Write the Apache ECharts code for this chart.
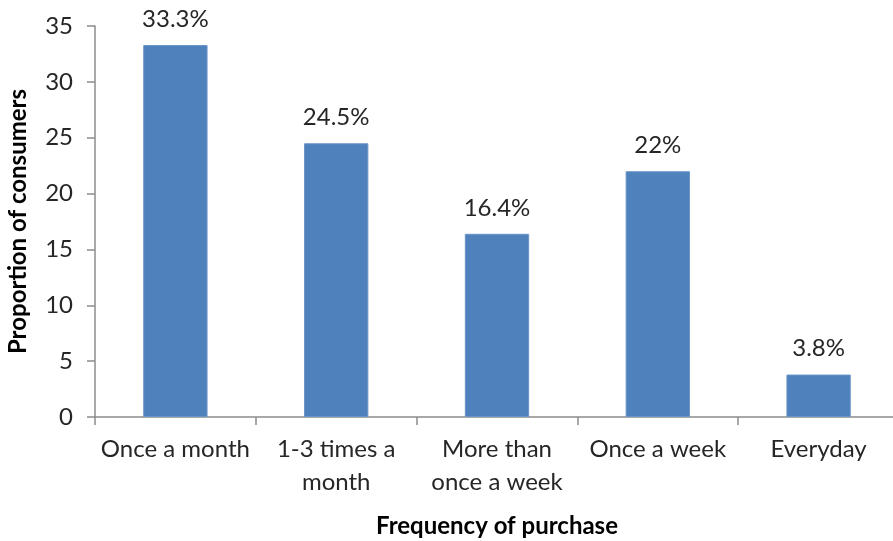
<!DOCTYPE html>
<html>
<head>
<meta charset="utf-8">
<script src="https://cdn.jsdelivr.net/npm/echarts@6/dist/echarts.min.js"></script>
<style>
  html, body { margin: 0; padding: 0; background: #fff; }
  #chart { width: 893px; height: 541px; }
</style>
</head>
<body>
<div id="chart"></div>
<script>
// Purchase frequency categories and share of consumers (%)
const categories = ['Once a month', '1-3 times a\nmonth', 'More than\nonce a week', 'Once a week', 'Everyday'];
const proportions = [33.3, 24.5, 16.4, 22, 3.8];
const yTicks = { min: 0, max: 35, interval: 5 };

const font = 'Lato, "Open Sans", "Liberation Sans", sans-serif';
const axisGray = '#8c8c8c';
const textColor = '#262626';

const chart = echarts.init(document.getElementById('chart'), null, { renderer: 'canvas' });
chart.setOption({
  animation: false,
  backgroundColor: '#ffffff',
  textStyle: { fontFamily: font },
  grid: { left: 95, right: -6, top: 26, bottom: 124, containLabel: false, outerBoundsMode: 'none' },
  xAxis: {
    type: 'category',
    data: categories,
    name: 'Frequency of purchase',
    nameLocation: 'middle',
    nameGap: 97,
    nameTextStyle: { fontFamily: font, fontSize: 24, fontWeight: 'bold', color: '#000' },
    axisLine: { lineStyle: { color: axisGray, width: 1.5 } },
    axisTick: { show: true, length: 8, alignWithLabel: false, lineStyle: { color: axisGray, width: 1.5 } },
    axisLabel: { fontFamily: font, fontSize: 24, color: textColor, margin: 16, lineHeight: 33, interval: 0 }
  },
  yAxis: {
    type: 'value',
    min: yTicks.min,
    max: yTicks.max,
    interval: yTicks.interval,
    name: 'Proportion of consumers',
    nameLocation: 'middle',
    nameGap: 65,
    nameTextStyle: { fontFamily: font, fontSize: 24, fontWeight: 'bold', color: '#000' },
    axisLine: { show: true, lineStyle: { color: axisGray, width: 1.5 } },
    axisTick: { show: true, length: 8, lineStyle: { color: axisGray, width: 1.5 } },
    axisLabel: { fontFamily: font, fontSize: 24, color: textColor, margin: 22 },
    splitLine: { show: false }
  },
  series: [{
    type: 'bar',
    data: proportions,
    barWidth: '40%',
    itemStyle: { color: '#4f81bd', borderColor: '#6a95c8', borderWidth: 1 },
    label: {
      show: true,
      position: 'top',
      distance: 14,
      fontFamily: font,
      fontSize: 24,
      color: textColor,
      formatter: p => p.value + '%'
    }
  }]
});
</script>
</body>
</html>
